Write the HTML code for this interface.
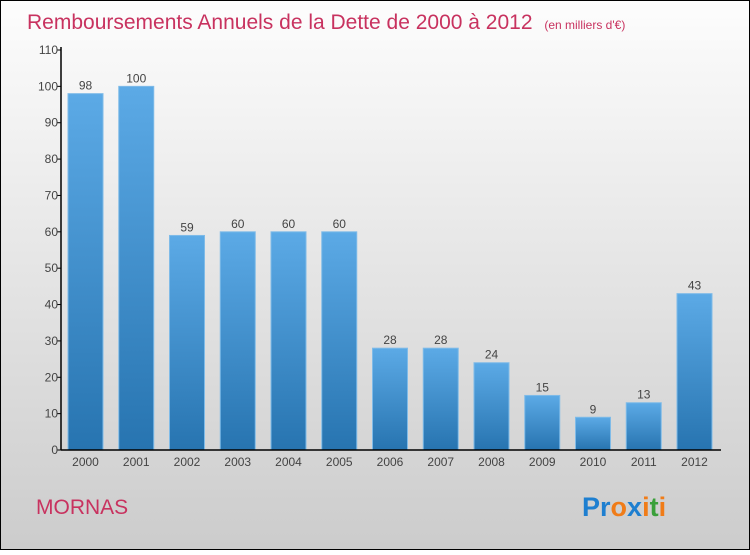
<!DOCTYPE html>
<html><head><meta charset="utf-8"><style>
body{margin:0;width:750px;height:550px;overflow:hidden;font-family:"Liberation Sans",sans-serif}
</style></head><body>
<svg width="750" height="550" xmlns="http://www.w3.org/2000/svg" id="chart">
<defs>
<linearGradient id="bg" x1="0" y1="0" x2="0" y2="1"><stop offset="0" stop-color="#fdfdfd"/><stop offset="1" stop-color="#cccccc"/></linearGradient>
<linearGradient id="bar" x1="0" y1="0" x2="0" y2="1"><stop offset="0" stop-color="#5caae6"/><stop offset="1" stop-color="#2774b0"/></linearGradient>
</defs>
<rect x="0.5" y="0.5" width="749" height="549" fill="url(#bg)" stroke="#000"/>
<text x="27" y="29" font-size="21" fill="#c8325f">Remboursements Annuels de la Dette de 2000 à 2012 <tspan font-size="12" dx="6">(en milliers d'€)</tspan></text>
<g id="plot"></g>
<text x="36" y="514" font-size="21" fill="#c8325f">MORNAS</text>
<g font-size="27" font-weight="bold" font-family="'Liberation Sans',sans-serif">
<text x="582" y="516"><tspan fill="#1e7fd0">Pr</tspan><tspan fill="#f07c18">o</tspan><tspan fill="#1e7fd0">x</tspan><tspan fill="#f07c18">i</tspan><tspan fill="#3aa03a">t</tspan><tspan fill="#f07c18">i</tspan></text>
</g>
</svg>
<script>
const categories=["2000","2001","2002","2003","2004","2005","2006","2007","2008","2009","2010","2011","2012"];
const values=[98,100,59,60,60,60,28,28,24,15,9,13,43];
const yTicks=[0,10,20,30,40,50,60,70,80,90,100,110];
const NS="http://www.w3.org/2000/svg";
const g=document.getElementById("plot");
const y0=450,yMax=110,yTop=50,x0=61;
const y=v=>y0-(v/yMax)*(y0-yTop);
const x=i=>85.5+i*50.75;
function mk(t,a){const e=document.createElementNS(NS,t);for(const k in a)e.setAttribute(k,a[k]);g.appendChild(e);return e;}
values.forEach((v,i)=>{
 const r=mk("rect",{x:x(i)-17.5,y:y(v),width:35,height:y0-y(v),fill:"url(#bar)",stroke:"#7fbbe8","stroke-width":1});
 
 
 const t=mk("text",{x:x(i),y:y(v)-4,"text-anchor":"middle","font-size":12,fill:"#444"});t.textContent=v;
 
 
 const c=mk("text",{x:x(i),y:466,"text-anchor":"middle","font-size":12,fill:"#444"});c.textContent=categories[i];
 
 
});
yTicks.forEach(v=>{
 const l=mk("line",{x1:x0-4,x2:x0,y1:y(v),y2:y(v),stroke:"#000"});
 
 
 const t=mk("text",{x:x0-3,y:y(v)+4,"text-anchor":"end","font-size":12,fill:"#444"});t.textContent=v;
 
 
});
const ya=mk("line",{x1:x0,x2:x0,y1:yTop-3,y2:y0,stroke:"#000","stroke-width":1.5});


const xa=mk("line",{x1:x0,x2:721,y1:y0,y2:y0,stroke:"#000","stroke-width":1.5});


</script>
</body></html>
